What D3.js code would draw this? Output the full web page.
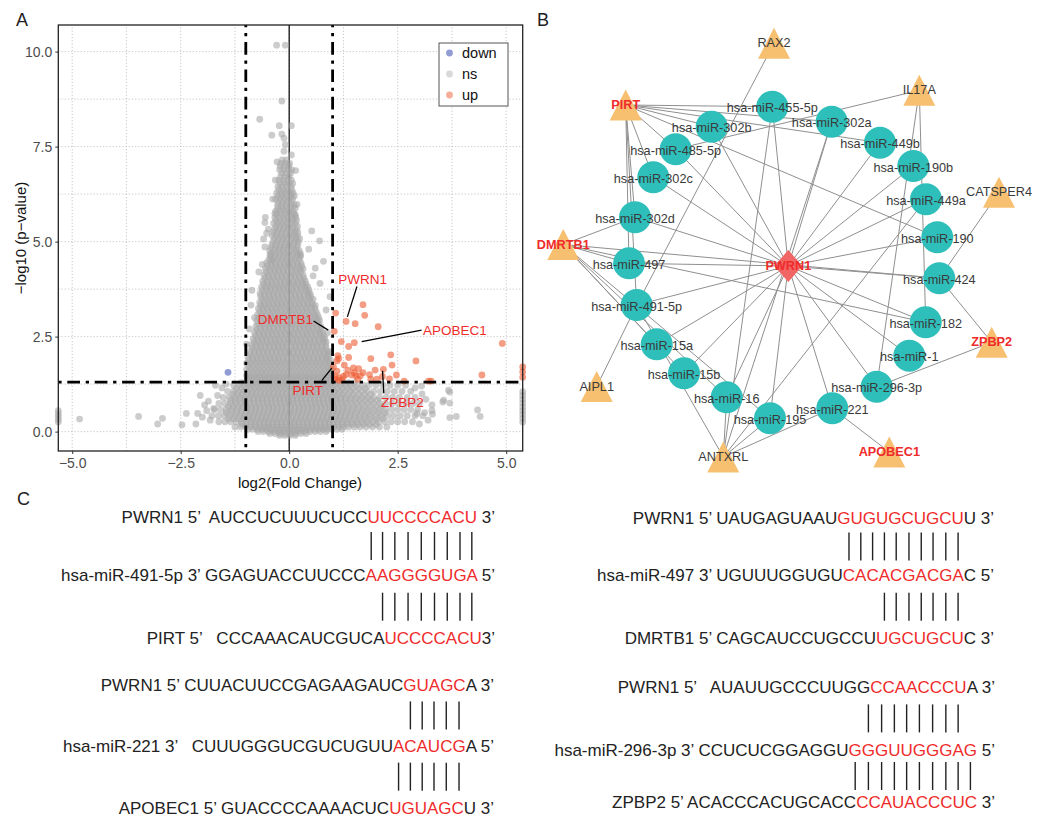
<!DOCTYPE html>
<html>
<head>
<meta charset="utf-8">
<script src="https://cdn.jsdelivr.net/npm/d3@7"></script>
<style>
  body { margin: 0; background: #fff; }
  svg text { font-family: "Liberation Sans", Arial, Helvetica, sans-serif; }
</style>
</head>
<body>
<script>
// ===================== DATA =====================
// Panel A: volcano plot
const xTickVals = [-5, -2.5, 0, 2.5, 5];
const xTickLabels = ["−5.0", "−2.5", "0.0", "2.5", "5.0"];
const yTickVals = [0, 2.5, 5, 7.5, 10];
const yTickLabels = ["0.0", "2.5", "5.0", "7.5", "10.0"];
const gridX = [-5, -3.75, -2.5, -1.25, 0, 1.25, 2.5, 3.75, 5];
const gridY = [0, 1.25, 2.5, 3.75, 5, 6.25, 7.5, 8.75, 10];
const fcCut = 1;
const pCut = 1.301;

// up-regulated genes [log2FC, -log10 p]
const upPts = [
  [1.70,3.34],[1.74,3.06],[1.07,3.12],[1.31,2.90],[1.52,2.84],[2.05,2.76],[1.04,2.64],
  [1.20,2.37],[1.37,2.24],[1.50,2.34],[4.91,2.32],[1.12,2.00],[1.14,1.92],[1.37,1.95],
  [1.88,1.92],[2.34,2.02],[2.92,1.86],[1.10,1.86],[1.27,1.75],[1.02,1.70],[1.48,1.68],
  [1.60,1.66],[1.98,1.62],[2.17,1.64],[2.37,1.75],[1.31,1.50],[1.44,1.49],[1.54,1.47],
  [1.64,1.47],[1.88,1.38],[2.02,1.38],[2.31,1.39],[2.47,1.49],[2.65,1.33],[3.21,1.33],
  [3.27,1.33],[4.44,1.49],[5.38,1.70],[5.38,1.57],[5.38,1.43],[1.14,1.35],[1.06,1.45],
  [1.10,1.59],[1.05,1.38],[1.15,1.42],[1.22,1.36],[1.50,1.55],[1.70,1.55],[1.58,1.38],
  [1.35,1.62],[1.25,1.45],[1.85,1.50],[2.15,1.45]
];
// down-regulated genes
const downPts = [[-1.41,1.56]];
// non-significant genes, scattered ones
const nsPts = [
  [-0.29,10.17],[-0.09,10.17],[-0.17,8.70],[-0.68,8.22],[-0.23,8.05],[0.05,8.05],[-0.40,7.80],
  [-0.17,7.83],[-0.12,7.72],[-0.09,7.55],[-0.12,7.38],[0.05,7.28],[-0.28,7.10],[0.15,6.87],
  [-0.32,6.62],[-0.38,6.12],[0.18,5.98],[-0.33,5.74],[0.14,5.70],[-0.55,5.64],[-0.56,5.50],
  [-0.48,5.33],[0.52,5.28],[-0.52,5.22],[-0.59,5.07],[0.70,5.02],[-0.56,4.86],[0.25,4.64],
  [-0.44,4.66],[0.79,4.48],[-0.40,4.52],[-0.86,3.72],[0.94,3.55],[-0.88,3.33],[0.71,3.90],
  [-0.70,4.20],[0.55,4.10],[-0.80,3.00],[0.85,3.20],[0.88,2.60],[-0.92,2.70],[0.95,2.10],
  [-0.98,2.30],[0.60,4.30],[-0.62,4.40],[0.45,4.80],
  [-5.32,0.55],[-5.32,0.47],[-5.32,0.40],[-5.32,0.32],[-5.32,0.25],[-4.83,0.33],[-3.47,0.40],
  [-3.03,0.20],[-2.92,0.35],[-2.47,0.18],[-2.37,0.48],[-2.15,0.20],[-2.11,0.48],[-2.00,0.38],
  [-1.86,0.80],[-1.74,0.61],[-1.70,1.22],[-1.90,0.55],[-1.82,0.30],[-1.95,0.70],[-1.65,0.95],
  [-1.55,1.15],[-2.05,0.95],[-1.45,1.25],
  [3.29,0.70],[3.29,0.55],[3.30,0.46],[3.70,1.04],[3.70,0.75],[3.54,0.78],[3.70,0.37],
  [4.34,0.57],[4.40,0.40],[3.06,0.99],[3.12,0.50],[3.20,0.30],[2.94,0.48],[3.00,0.20],
  [3.67,1.09],[3.56,0.83],[3.85,0.40],[3.05,1.20],[2.90,1.15],[3.15,0.85],
  [5.38,1.05],[5.38,0.95],[5.38,0.85],[5.38,0.75],[5.38,0.65],[5.38,0.55],[5.38,0.45],
  [5.38,0.35],[5.38,0.25]
];
// non-significant genes in the dense cloud, listed row by row: [-log10 p, [log2FC ...]]
const nsRows = [
  [7.15,[-0.16,-0.06]],
  [7.06,[-0.19,-0.09,0.01]],
  [6.98,[-0.21,-0.11,-0.01]],
  [6.89,[-0.22,-0.12,-0.02,0.06]],
  [6.80,[-0.17,-0.07,0.03]],
  [6.71,[-0.20,-0.10,0.00]],
  [6.62,[-0.24,-0.13,-0.03,0.05]],
  [6.53,[-0.21,-0.11,-0.01,0.08]],
  [6.45,[-0.26,-0.16,-0.06,0.04]],
  [6.36,[-0.24,-0.14,-0.04,0.06]],
  [6.28,[-0.29,-0.19,-0.09,0.01,0.09]],
  [6.20,[-0.26,-0.16,-0.06,0.04,0.12]],
  [6.12,[-0.31,-0.21,-0.11,-0.01,0.08]],
  [6.04,[-0.25,-0.15,-0.05,0.05]],
  [5.96,[-0.27,-0.17,-0.07,0.03,0.12]],
  [5.88,[-0.26,-0.16,-0.06,0.04,0.14]],
  [5.80,[-0.31,-0.21,-0.11,-0.01,0.09]],
  [5.72,[-0.28,-0.18,-0.08,0.02,0.12]],
  [5.64,[-0.33,-0.23,-0.13,-0.03,0.07,0.15]],
  [5.56,[-0.31,-0.21,-0.11,-0.01,0.09,0.17]],
  [5.48,[-0.36,-0.26,-0.16,-0.06,0.04,0.14]],
  [5.40,[-0.31,-0.21,-0.11,-0.01,0.09,0.19]],
  [5.32,[-0.34,-0.24,-0.14,-0.04,0.06,0.16]],
  [5.24,[-0.37,-0.27,-0.17,-0.07,0.03,0.13,0.20]],
  [5.16,[-0.39,-0.29,-0.19,-0.09,0.01,0.11,0.19]],
  [5.08,[-0.34,-0.24,-0.14,-0.04,0.06,0.16,0.24]],
  [5.00,[-0.37,-0.27,-0.17,-0.07,0.03,0.13,0.21]],
  [4.92,[-0.40,-0.30,-0.20,-0.10,0.00,0.10,0.20]],
  [4.84,[-0.42,-0.32,-0.22,-0.12,-0.02,0.08,0.18]],
  [4.76,[-0.45,-0.35,-0.25,-0.15,-0.05,0.05,0.15,0.23]],
  [4.68,[-0.41,-0.31,-0.21,-0.11,-0.01,0.09,0.19,0.26]],
  [4.60,[-0.44,-0.34,-0.24,-0.14,-0.04,0.06,0.16,0.26]],
  [4.52,[-0.47,-0.37,-0.27,-0.17,-0.07,0.03,0.13,0.23]],
  [4.44,[-0.52,-0.42,-0.32,-0.22,-0.12,-0.02,0.08,0.18,0.27]],
  [4.36,[-0.50,-0.40,-0.30,-0.20,-0.10,0.00,0.10,0.20,0.29]],
  [4.28,[-0.55,-0.45,-0.35,-0.25,-0.15,-0.05,0.05,0.15,0.25,0.32]],
  [4.20,[-0.53,-0.43,-0.33,-0.23,-0.13,-0.03,0.07,0.17,0.27]],
  [4.12,[-0.58,-0.48,-0.38,-0.28,-0.18,-0.08,0.02,0.12,0.22,0.32]],
  [4.04,[-0.56,-0.46,-0.36,-0.26,-0.16,-0.06,0.04,0.14,0.24,0.34]],
  [3.96,[-0.61,-0.51,-0.41,-0.31,-0.21,-0.11,-0.01,0.09,0.19,0.29,0.37]],
  [3.88,[-0.59,-0.49,-0.39,-0.29,-0.19,-0.09,0.01,0.11,0.21,0.31,0.39]],
  [3.80,[-0.64,-0.54,-0.44,-0.34,-0.24,-0.14,-0.04,0.06,0.16,0.26,0.36,0.43]],
  [3.72,[-0.62,-0.52,-0.42,-0.32,-0.22,-0.12,-0.02,0.08,0.18,0.28,0.38,0.45]],
  [3.64,[-0.67,-0.57,-0.47,-0.37,-0.27,-0.17,-0.07,0.03,0.13,0.23,0.33,0.43,0.48]],
  [3.56,[-0.66,-0.56,-0.46,-0.36,-0.26,-0.16,-0.06,0.04,0.14,0.24,0.34,0.44,0.50]],
  [3.48,[-0.63,-0.53,-0.43,-0.33,-0.23,-0.13,-0.03,0.07,0.17,0.27,0.37,0.47,0.55]],
  [3.40,[-0.68,-0.58,-0.48,-0.38,-0.28,-0.18,-0.08,0.02,0.12,0.22,0.32,0.42,0.52]],
  [3.32,[-0.66,-0.56,-0.46,-0.36,-0.26,-0.16,-0.06,0.04,0.14,0.24,0.34,0.44,0.54,0.60]],
  [3.24,[-0.71,-0.61,-0.51,-0.41,-0.31,-0.21,-0.11,-0.01,0.09,0.19,0.29,0.39,0.49,0.59]],
  [3.16,[-0.68,-0.58,-0.48,-0.38,-0.28,-0.18,-0.08,0.02,0.12,0.22,0.32,0.42,0.52,0.62]],
  [3.08,[-0.73,-0.63,-0.53,-0.43,-0.33,-0.23,-0.13,-0.03,0.07,0.17,0.27,0.37,0.47,0.57,0.65]],
  [3.00,[-0.70,-0.60,-0.50,-0.40,-0.30,-0.20,-0.10,0.00,0.10,0.20,0.30,0.40,0.50,0.60,0.68]],
  [2.92,[-0.75,-0.65,-0.55,-0.45,-0.35,-0.25,-0.15,-0.05,0.05,0.15,0.25,0.35,0.45,0.55,0.65,0.70]],
  [2.84,[-0.72,-0.62,-0.52,-0.42,-0.32,-0.22,-0.12,-0.02,0.08,0.18,0.28,0.38,0.48,0.58,0.68]],
  [2.76,[-0.77,-0.67,-0.57,-0.47,-0.37,-0.27,-0.17,-0.07,0.03,0.13,0.23,0.33,0.43,0.53,0.63,0.73]],
  [2.68,[-0.75,-0.65,-0.55,-0.45,-0.35,-0.25,-0.15,-0.05,0.05,0.15,0.25,0.35,0.45,0.55,0.65,0.74]],
  [2.60,[-0.80,-0.70,-0.60,-0.50,-0.40,-0.30,-0.20,-0.10,0.00,0.10,0.20,0.30,0.40,0.50,0.60,0.70,0.77]],
  [2.52,[-0.78,-0.68,-0.58,-0.48,-0.38,-0.28,-0.18,-0.08,0.02,0.12,0.22,0.32,0.42,0.52,0.62,0.72,0.80]],
  [2.44,[-0.83,-0.73,-0.63,-0.53,-0.43,-0.33,-0.23,-0.13,-0.03,0.07,0.17,0.27,0.37,0.47,0.57,0.67,0.77,0.82]],
  [2.36,[-0.81,-0.71,-0.61,-0.51,-0.41,-0.31,-0.21,-0.11,-0.01,0.09,0.19,0.29,0.39,0.49,0.59,0.69,0.79,0.85]],
  [2.28,[-0.86,-0.76,-0.66,-0.56,-0.46,-0.36,-0.26,-0.16,-0.06,0.04,0.14,0.24,0.34,0.44,0.54,0.64,0.74,0.84]],
  [2.20,[-0.85,-0.75,-0.65,-0.55,-0.45,-0.35,-0.25,-0.15,-0.05,0.05,0.15,0.25,0.35,0.45,0.55,0.65,0.75,0.85]],
  [2.12,[-0.90,-0.80,-0.70,-0.60,-0.50,-0.40,-0.30,-0.20,-0.10,0.00,0.10,0.20,0.30,0.40,0.50,0.60,0.70,0.80,0.88]],
  [2.04,[-0.90,-0.80,-0.70,-0.60,-0.50,-0.40,-0.30,-0.20,-0.10,0.00,0.10,0.20,0.30,0.40,0.50,0.60,0.70,0.80,0.90]],
  [1.96,[-0.95,-0.85,-0.75,-0.65,-0.55,-0.45,-0.35,-0.25,-0.15,-0.05,0.05,0.15,0.25,0.35,0.45,0.55,0.65,0.75,0.85,0.91]],
  [1.88,[-0.93,-0.83,-0.73,-0.63,-0.53,-0.43,-0.33,-0.23,-0.13,-0.03,0.07,0.17,0.27,0.37,0.47,0.57,0.67,0.77,0.87,0.95]],
  [1.80,[-0.98,-0.88,-0.78,-0.68,-0.58,-0.48,-0.38,-0.28,-0.18,-0.08,0.02,0.12,0.22,0.32,0.42,0.52,0.62,0.72,0.82,0.92]],
  [1.72,[-0.93,-0.83,-0.73,-0.63,-0.53,-0.43,-0.33,-0.23,-0.13,-0.03,0.07,0.17,0.27,0.37,0.47,0.57,0.67,0.77,0.87,0.96]],
  [1.64,[-0.98,-0.88,-0.78,-0.68,-0.58,-0.48,-0.38,-0.28,-0.18,-0.08,0.02,0.12,0.22,0.32,0.42,0.52,0.62,0.72,0.82,0.92,0.97]],
  [1.56,[-0.93,-0.83,-0.73,-0.63,-0.53,-0.43,-0.33,-0.23,-0.13,-0.03,0.07,0.17,0.27,0.37,0.47,0.57,0.67,0.77,0.87,0.96]],
  [1.48,[-0.98,-0.88,-0.78,-0.68,-0.58,-0.48,-0.38,-0.28,-0.18,-0.08,0.02,0.12,0.22,0.32,0.42,0.52,0.62,0.72,0.82,0.92,0.98]],
  [1.42,[-0.93,-0.83,-0.73,-0.63,-0.53,-0.43,-0.33,-0.23,-0.13,-0.03,0.07,0.17,0.27,0.37,0.47,0.57,0.67,0.77,0.87,0.97]],
  [1.36,[-0.96,-0.86,-0.76,-0.66,-0.56,-0.46,-0.36,-0.26,-0.16,-0.06,0.04,0.14,0.24,0.34,0.44,0.54,0.64,0.74,0.84,0.94]],
  [1.29,[-1.10,-0.99,-0.89,-0.79,-0.69,-0.59,-0.49,-0.39,-0.29,-0.19,-0.09,0.01,0.11,0.21,0.31,0.41,0.51,0.61,0.71,0.81,0.91,1.01,1.12,1.24,1.37,1.50]],
  [1.22,[-1.28,-1.15,-1.04,-0.94,-0.84,-0.74,-0.64,-0.54,-0.44,-0.34,-0.24,-0.14,-0.04,0.06,0.16,0.26,0.36,0.46,0.56,0.66,0.76,0.86,0.96,1.06,1.18,1.30,1.42,1.56,1.70,1.84,2.00,2.16,2.32,2.50,2.68]],
  [1.14,[-1.22,-1.10,-0.99,-0.89,-0.79,-0.69,-0.59,-0.49,-0.39,-0.29,-0.19,-0.09,0.01,0.11,0.21,0.31,0.41,0.51,0.61,0.71,0.81,0.91,1.01,1.11,1.22,1.34,1.46,1.60,1.75]],
  [1.06,[-1.42,-1.28,-1.16,-1.05,-0.95,-0.85,-0.75,-0.65,-0.55,-0.45,-0.35,-0.25,-0.15,-0.05,0.05,0.15,0.25,0.35,0.45,0.55,0.65,0.75,0.85,0.95,1.05,1.16,1.28,1.40,1.52,1.66,1.80,1.95,2.10,2.26,2.42,2.60,2.80]],
  [0.98,[-1.30,-1.19,-1.08,-0.97,-0.87,-0.77,-0.67,-0.57,-0.47,-0.37,-0.27,-0.17,-0.07,0.03,0.13,0.23,0.33,0.43,0.53,0.63,0.73,0.83,0.93,1.03,1.13,1.24,1.36,1.48,1.61,1.74,1.88]],
  [0.90,[-1.52,-1.38,-1.25,-1.13,-1.02,-0.92,-0.82,-0.72,-0.62,-0.52,-0.42,-0.32,-0.22,-0.12,-0.02,0.08,0.18,0.28,0.38,0.48,0.58,0.68,0.78,0.88,0.98,1.08,1.19,1.30,1.42,1.54,1.67,1.80,1.94,2.08,2.23,2.38,2.54,2.72,2.90]],
  [0.82,[-1.35,-1.24,-1.13,-1.02,-0.92,-0.82,-0.72,-0.62,-0.52,-0.42,-0.32,-0.22,-0.12,-0.02,0.08,0.18,0.28,0.38,0.48,0.58,0.68,0.78,0.88,0.98,1.08,1.18,1.29,1.40,1.52,1.64,1.77,1.90,2.04]],
  [0.74,[-1.62,-1.48,-1.35,-1.23,-1.11,-1.00,-0.90,-0.80,-0.70,-0.60,-0.50,-0.40,-0.30,-0.20,-0.10,0.00,0.10,0.20,0.30,0.40,0.50,0.60,0.70,0.80,0.90,1.00,1.10,1.21,1.32,1.44,1.56,1.68,1.81,1.94,2.08,2.22,2.37,2.52,2.68,2.85,3.00]],
  [0.66,[-1.40,-1.29,-1.18,-1.07,-0.97,-0.87,-0.77,-0.67,-0.57,-0.47,-0.37,-0.27,-0.17,-0.07,0.03,0.13,0.23,0.33,0.43,0.53,0.63,0.73,0.83,0.93,1.03,1.13,1.24,1.35,1.47,1.59,1.72,1.85,1.99,2.13]],
  [0.58,[-1.72,-1.58,-1.45,-1.32,-1.20,-1.08,-0.97,-0.87,-0.77,-0.67,-0.57,-0.47,-0.37,-0.27,-0.17,-0.07,0.03,0.13,0.23,0.33,0.43,0.53,0.63,0.73,0.83,0.93,1.03,1.13,1.24,1.35,1.46,1.58,1.70,1.82,1.95,2.08,2.22,2.36,2.50,2.65,2.80,2.96]],
  [0.50,[-1.45,-1.33,-1.21,-1.10,-0.99,-0.89,-0.79,-0.69,-0.59,-0.49,-0.39,-0.29,-0.19,-0.09,0.01,0.11,0.21,0.31,0.41,0.51,0.61,0.71,0.81,0.91,1.01,1.11,1.21,1.32,1.43,1.55,1.67,1.80,1.93,2.07,2.21]],
  [0.42,[-1.78,-1.63,-1.50,-1.37,-1.25,-1.13,-1.02,-0.92,-0.82,-0.72,-0.62,-0.52,-0.42,-0.32,-0.22,-0.12,-0.02,0.08,0.18,0.28,0.38,0.48,0.58,0.68,0.78,0.88,0.98,1.08,1.18,1.29,1.40,1.51,1.63,1.75,1.87,2.00,2.13,2.27,2.41,2.56,2.72,2.90,3.08]],
  [0.34,[-1.40,-1.28,-1.16,-1.05,-0.94,-0.84,-0.74,-0.64,-0.54,-0.44,-0.34,-0.24,-0.14,-0.04,0.06,0.16,0.26,0.36,0.46,0.56,0.66,0.76,0.86,0.96,1.06,1.16,1.27,1.38,1.50,1.62,1.75,1.88,2.02,2.16]],
  [0.26,[-1.62,-1.48,-1.35,-1.22,-1.10,-0.99,-0.88,-0.78,-0.68,-0.58,-0.48,-0.38,-0.28,-0.18,-0.08,0.02,0.12,0.22,0.32,0.42,0.52,0.62,0.72,0.82,0.92,1.02,1.12,1.22,1.33,1.44,1.56,1.68,1.80,1.93,2.06,2.20,2.35,2.50,2.66,2.84]],
  [0.19,[-1.10,-0.99,-0.88,-0.78,-0.68,-0.58,-0.48,-0.38,-0.28,-0.18,-0.08,0.02,0.12,0.22,0.32,0.42,0.52,0.62,0.72,0.82,0.92,1.02,1.12,1.23,1.34,1.46,1.58,1.71,1.85,2.00]],
  [0.12,[-1.25,-1.12,-1.00,-0.89,-0.78,-0.67,-0.57,-0.47,-0.37,-0.27,-0.17,-0.07,0.03,0.13,0.23,0.33,0.43,0.53,0.63,0.73,0.83,0.93,1.03,1.14,1.25,1.37,1.50,1.63,1.77,1.92,2.08,2.25]],
  [0.06,[-0.95,-0.84,-0.73,-0.62,-0.52,-0.42,-0.32,-0.22,-0.12,-0.02,0.08,0.18,0.28,0.38,0.48,0.58,0.68,0.78,0.88,0.98,1.10,1.22]],
  [0.00,[-0.72,-0.60,-0.48,-0.36,-0.24,-0.12,0.00,0.12,0.24,0.36,0.48,0.60,0.72,0.85]],
  [-0.05,[-0.45,-0.33,-0.21,-0.09,0.03,0.15,0.27,0.39]],
  [-0.10,[-0.22,-0.10,0.02,0.14]]
];
// labelled genes: label centre, connector start/end (data units)
const geneLabels = [
  {gene:"PWRN1",   lx:1.69, ly:3.99, sx:1.56, sy:3.82, ex:1.34, ey:3.02},
  {gene:"DMRTB1",  lx:-0.09,ly:2.94, sx:0.56, sy:2.91, ex:0.90, ey:2.67},
  {gene:"APOBEC1", lx:3.82, ly:2.66, sx:3.05, sy:2.67, ex:1.67, ey:2.37},
  {gene:"PIRT",    lx:0.43, ly:1.07, sx:0.75, sy:1.34, ex:0.98, ey:1.67},
  {gene:"ZPBP2",   lx:2.61, ly:0.76, sx:2.18, sy:1.01, ex:2.15, ey:1.60}
];
const legendKeys = ["down", "ns", "up"];

// Panel B: ceRNA network (layout coordinates)
const lncNodes = [["PWRN1", 258.3, 266]];
const miRNANodes = [
  ["hsa-miR-455-5p",242.3,106.7],["hsa-miR-302b",181.7,126.7],["hsa-miR-302a",301.7,121.7],
  ["hsa-miR-485-5p",145.7,149.3],["hsa-miR-449b",350,142.7],["hsa-miR-190b",383.3,166],
  ["hsa-miR-302c",123.3,177.3],["hsa-miR-449a",396,199.3],["hsa-miR-302d",105,217.3],
  ["hsa-miR-190",407.3,237.3],["hsa-miR-497",99,263.3],["hsa-miR-424",409.3,278.3],
  ["hsa-miR-491-5p",106.7,305],["hsa-miR-182",395.7,322.3],["hsa-miR-15a",126.7,344.3],
  ["hsa-miR-1",379.3,355.7],["hsa-miR-15b",154,373.3],["hsa-miR-296-3p",346.7,386.7],
  ["hsa-miR-16",196.7,397.3],["hsa-miR-221",302.3,408.3],["hsa-miR-195",240,418.3]
];
const mRNANodes = [
  ["RAX2",244,43.3,false],["PIRT",95.7,105,true],["IL17A",389.3,90.3,false],
  ["CATSPER4",469,192.3,false],["DMRTB1",33.3,244.5,true],["ZPBP2",461.7,342.3,true],
  ["AIPL1",66.7,386.5,false],["ANTXRL",193.3,457,false],["APOBEC1",359.3,452,true]
];
const mRNAEdges = [
  ["PIRT","hsa-miR-455-5p"],["PIRT","hsa-miR-302a"],["PIRT","hsa-miR-302b"],["PIRT","hsa-miR-485-5p"],
  ["PIRT","hsa-miR-302c"],["PIRT","hsa-miR-302d"],["PIRT","hsa-miR-497"],["PIRT","hsa-miR-449b"],
  ["PIRT","hsa-miR-190"],["PIRT","hsa-miR-491-5p"],
  ["RAX2","hsa-miR-491-5p"],
  ["IL17A","hsa-miR-485-5p"],["IL17A","hsa-miR-182"],["IL17A","hsa-miR-296-3p"],
  ["CATSPER4","hsa-miR-424"],
  ["DMRTB1","hsa-miR-497"],["DMRTB1","hsa-miR-302d"],["DMRTB1","hsa-miR-424"],["DMRTB1","hsa-miR-182"],
  ["DMRTB1","hsa-miR-15a"],["DMRTB1","hsa-miR-15b"],["DMRTB1","hsa-miR-16"],["DMRTB1","hsa-miR-195"],
  ["ZPBP2","hsa-miR-424"],["ZPBP2","hsa-miR-296-3p"],
  ["AIPL1","hsa-miR-491-5p"],
  ["ANTXRL","hsa-miR-16"],["ANTXRL","hsa-miR-195"],["ANTXRL","hsa-miR-221"],["ANTXRL","hsa-miR-455-5p"],
  ["ANTXRL","hsa-miR-449a"],["ANTXRL","hsa-miR-491-5p"],["ANTXRL","hsa-miR-302a"],
  ["APOBEC1","hsa-miR-221"]
];

// Panel C: binding sites [black prefix, red seed, black suffix]
const seqPWRN1a = ["PWRN1 5’  AUCCUCUUUCUCC", "UUCCCCACU", " 3’"];
const seqMiR491 = ["hsa-miR-491-5p 3’ GGAGUACCUUCCC", "AAGGGGUGA", " 5’"];
const seqPIRT   = ["PIRT 5’   CCCAAACAUCGUCA", "UCCCCACU", "3’"];
const seqPWRN1b = ["PWRN1 5’ CUUACUUCCGAGAAGAUC", "GUAGC", "A 3’"];
const seqMiR221 = ["hsa-miR-221 3’   CUUUGGGUCGUCUGUU", "ACAUCG", "A 5’"];
const seqAPOBEC1= ["APOBEC1 5’ GUACCCCAAAACUC", "UGUAGC", "U 3’"];
const seqPWRN1c = ["PWRN1 5’ UAUGAGUAAU", "GUGUGCUGCU", "U 3’"];
const seqMiR497 = ["hsa-miR-497 3’ UGUUUGGUGU", "CACACGACGA", "C 5’"];
const seqDMRTB1 = ["DMRTB1 5’ CAGCAUCCUGCCU", "UGCUGCU", "C 3’"];
const seqPWRN1d = ["PWRN1 5’   AUAUUGCCCUUGG", "CCAACCCU", "A 3’"];
const seqMiR296 = ["hsa-miR-296-3p 3’ CCUCUCGGAGGU", "GGGUUGGGAG", " 5’"];
const seqZPBP2  = ["ZPBP2 5’ ACACCCACUGCACC", "CCAUACCCUC", " 3’"];
// base pairs: [first paired position in the miRNA seed, number of pairs]
const pairsBlock1 = [[0,9],[1,8]];
const pairsBlock2 = [[1,5],[0,6]];
const pairsBlock3 = [[0,10],[3,7]];
const pairsBlock4 = [[1,8],[0,10]];

// ===================== DRAWING =====================
const svg = d3.select("body").append("svg").attr("width", 1049).attr("height", 818);
const RED = "#ef2b2b";

// ---------- Panel A ----------
const x = d3.scaleLinear().domain([-5.32, 5.38]).range([58.3, 522.7]);
const y = d3.scaleLinear().domain([-0.51, 10.7]).range([451, 25]);
const gA = svg.append("g");

gA.append("g").selectAll("line").data(gridX).join("line")
  .attr("x1", d => x(d)).attr("x2", d => x(d)).attr("y1", y.range()[0]).attr("y2", y.range()[1])
  .attr("stroke", "#b9b9b9").attr("stroke-width", 0.8).attr("stroke-dasharray", "1.2,2");
gA.append("g").selectAll("line").data(gridY).join("line")
  .attr("y1", d => y(d)).attr("y2", d => y(d)).attr("x1", x.range()[0]).attr("x2", x.range()[1])
  .attr("stroke", "#b9b9b9").attr("stroke-width", 0.8).attr("stroke-dasharray", "1.2,2");

// zero line
gA.append("line").attr("x1", x(0)).attr("x2", x(0)).attr("y1", y.range()[0]).attr("y2", y.range()[1])
  .attr("stroke", "#111").attr("stroke-width", 1.3);

const nsAll = nsPts.concat(nsRows.flatMap(([py, xs]) => xs.map(px => [px, py])));
const R = 3.4;
gA.append("g").selectAll("circle").data(nsAll).join("circle")
  .attr("cx", d => x(d[0])).attr("cy", d => y(d[1])).attr("r", R)
  .attr("fill", "#a7a7a7").attr("fill-opacity", 0.58);
gA.append("g").selectAll("circle").data(downPts).join("circle")
  .attr("cx", d => x(d[0])).attr("cy", d => y(d[1])).attr("r", R)
  .attr("fill", "#4a5ab8").attr("fill-opacity", 0.6);
gA.append("g").selectAll("circle").data(upPts).join("circle")
  .attr("cx", d => x(d[0])).attr("cy", d => y(d[1])).attr("r", R)
  .attr("fill", "#ec5b33").attr("fill-opacity", 0.6);

// thresholds
const dd = "3.3,5.7,12.7,5.7";
[-fcCut, fcCut].forEach(v => gA.append("line")
  .attr("x1", x(v)).attr("x2", x(v)).attr("y1", y.range()[1]).attr("y2", y.range()[0])
  .attr("stroke", "#000").attr("stroke-width", 2.8).attr("stroke-dasharray", dd).attr("stroke-dashoffset", -8));
gA.append("line").attr("x1", x.range()[0]).attr("x2", x.range()[1]).attr("y1", y(pCut)).attr("y2", y(pCut))
  .attr("stroke", "#000").attr("stroke-width", 2.8).attr("stroke-dasharray", dd);

// panel border
gA.append("rect").attr("x", x.range()[0]).attr("y", y.range()[1])
  .attr("width", x.range()[1] - x.range()[0]).attr("height", y.range()[0] - y.range()[1])
  .attr("fill", "none").attr("stroke", "#222").attr("stroke-width", 1.3);

// axes
const xAxis = d3.axisBottom(x).tickValues(xTickVals).tickSize(3).tickPadding(4)
  .tickFormat((d, i) => xTickLabels[i]);
const gx = gA.append("g").attr("transform", `translate(0,${y.range()[0]})`).call(xAxis);
gx.select(".domain").remove();
gx.selectAll("line").attr("stroke", "#333");
gx.selectAll("text").attr("fill", "#4d4d4d").style("font-size", "14px")
  .style("font-family", '"Liberation Sans", Arial, sans-serif');
const yAxis = d3.axisLeft(y).tickValues(yTickVals).tickSize(3).tickPadding(3)
  .tickFormat((d, i) => yTickLabels[i]);
const gy = gA.append("g").attr("transform", `translate(${x.range()[0]},0)`).call(yAxis);
gy.select(".domain").remove();
gy.selectAll("line").attr("stroke", "#333");
gy.selectAll("text").attr("fill", "#4d4d4d").style("font-size", "14px")
  .style("font-family", '"Liberation Sans", Arial, sans-serif');

gA.append("text").attr("x", 300).attr("y", 488).attr("text-anchor", "middle")
  .style("font-size", "15px").attr("fill", "#111").text("log2(Fold Change)");
gA.append("text").attr("transform", `translate(26,${(y.range()[0] + y.range()[1]) / 2}) rotate(-90)`)
  .attr("text-anchor", "middle").style("font-size", "15px").attr("fill", "#111").text("−log10 (p−value)");

// gene labels
const gl = gA.append("g");
gl.selectAll("line").data(geneLabels).join("line")
  .attr("x1", d => x(d.sx)).attr("y1", d => y(d.sy)).attr("x2", d => x(d.ex)).attr("y2", d => y(d.ey))
  .attr("stroke", "#000").attr("stroke-width", 1.3);
gl.selectAll("text").data(geneLabels).join("text")
  .attr("x", d => x(d.lx)).attr("y", d => y(d.ly)).attr("text-anchor", "middle")
  .attr("dominant-baseline", "central").style("font-size", "13.5px").attr("fill", RED)
  .text(d => d.gene);

// legend
const legColors = {down: ["#4a5ab8", 0.6], ns: ["#aaaaaa", 0.45], up: ["#ec5b33", 0.5]};
const lg = gA.append("g");
lg.append("rect").attr("x", 439).attr("y", 43).attr("width", 69).attr("height", 63)
  .attr("fill", "#fff").attr("stroke", "#555").attr("stroke-width", 1);
const ly = d3.scalePoint().domain(legendKeys).range([53, 95]);
lg.selectAll("circle").data(legendKeys).join("circle")
  .attr("cx", 449.5).attr("cy", d => ly(d)).attr("r", 3.4)
  .attr("fill", d => legColors[d][0]).attr("fill-opacity", d => legColors[d][1]);
lg.selectAll("text").data(legendKeys).join("text")
  .attr("x", 462).attr("y", d => ly(d)).attr("dominant-baseline", "central")
  .style("font-size", "14.5px").attr("fill", "#111").text(d => d);

// panel letters
svg.append("text").attr("x", 16).attr("y", 26).style("font-size", "18px").attr("fill", "#222").text("A");
svg.append("text").attr("x", 537).attr("y", 26).style("font-size", "18px").attr("fill", "#222").text("B");
svg.append("text").attr("x", 17).attr("y", 505).style("font-size", "18px").attr("fill", "#222").text("C");

// ---------- Panel B ----------
const nx = d3.scaleLinear().domain([0, 519]).range([530, 1049]);
const ny = d3.scaleLinear().domain([0, 470]).range([0, 470]);
const pos = {};
lncNodes.forEach(d => pos[d[0]] = [nx(d[1]), ny(d[2])]);
miRNANodes.forEach(d => pos[d[0]] = [nx(d[1]), ny(d[2])]);
mRNANodes.forEach(d => pos[d[0]] = [nx(d[1]), ny(d[2])]);
const edges = miRNANodes.map(d => [lncNodes[0][0], d[0]]).concat(mRNAEdges);
const gB = svg.append("g");
gB.append("g").selectAll("line").data(edges).join("line")
  .attr("x1", d => pos[d[0]][0]).attr("y1", d => pos[d[0]][1])
  .attr("x2", d => pos[d[1]][0]).attr("y2", d => pos[d[1]][1])
  .attr("stroke", "#8f8f8f").attr("stroke-width", 1);
// miRNA circles
gB.append("g").selectAll("circle").data(miRNANodes).join("circle")
  .attr("cx", d => pos[d[0]][0]).attr("cy", d => pos[d[0]][1]).attr("r", 16)
  .attr("fill", "#2fbfba");
// mRNA triangles
gB.append("g").selectAll("path").data(mRNANodes).join("path")
  .attr("d", d => { const [cx, cy] = pos[d[0]]; return `M${cx},${cy - 15.5}L${cx + 16},${cy + 15.5}L${cx - 16},${cy + 15.5}Z`; })
  .attr("fill", "#f7bf70");
// lncRNA diamond
gB.append("g").selectAll("path").data(lncNodes).join("path")
  .attr("d", d => { const [cx, cy] = pos[d[0]]; return `M${cx},${cy - 16}L${cx + 14},${cy}L${cx},${cy + 16}L${cx - 14},${cy}Z`; })
  .attr("fill", "#f26565");
// labels
gB.append("g").selectAll("text").data(miRNANodes).join("text")
  .attr("x", d => pos[d[0]][0]).attr("y", d => pos[d[0]][1] + 1.5)
  .attr("text-anchor", "middle").attr("dominant-baseline", "central")
  .style("font-size", "12.7px").attr("fill", "#3a3a3a").text(d => d[0]);
gB.append("g").selectAll("text").data(mRNANodes).join("text")
  .attr("x", d => pos[d[0]][0]).attr("y", d => pos[d[0]][1])
  .attr("text-anchor", "middle").attr("dominant-baseline", "central")
  .style("font-size", "12.7px").style("font-weight", d => d[3] ? "bold" : "normal")
  .attr("fill", d => d[3] ? RED : "#3a3a3a").text(d => d[0]);
gB.append("g").selectAll("text").data(lncNodes).join("text")
  .attr("x", d => pos[d[0]][0]).attr("y", d => pos[d[0]][1])
  .attr("text-anchor", "middle").attr("dominant-baseline", "central")
  .style("font-size", "12.7px").style("font-weight", "bold").attr("fill", RED).text(d => d[0]);

// ---------- Panel C ----------
const gC = svg.append("g");
function seqLine(parts, xEnd, base) {
  const t = gC.append("text").attr("x", xEnd).attr("y", base).attr("text-anchor", "end")
    .style("font-size", "17px").style("white-space", "pre").attr("fill", "#222");
  t.append("tspan").text(parts[0]);
  t.append("tspan").attr("fill", RED).text(parts[1]);
  t.append("tspan").text(parts[2]);
  return t;
}
function block(seqs, xEnd, bases, pairs) {
  const lines = seqs.map((s, i) => seqLine(s, xEnd, bases[i]));
  const mid = 1; // the miRNA sits on the middle line
  const node = lines[mid].node();
  const off = seqs[mid][0].length;
  pairs.forEach(([s0, n], gi) => {
    const upper = gi === 0 ? 0 : 1, lower = upper + 1;
    const cy = ((bases[upper] - 6) + (bases[lower] - 6)) / 2;
    const xs = d3.range(n).map(k => {
      const i = off + s0 + k;
      const a = node.getStartPositionOfChar(i).x, b = node.getEndPositionOfChar(i).x;
      return (a + b) / 2;
    });
    gC.append("g").selectAll("line").data(xs).join("line")
      .attr("x1", d => d).attr("x2", d => d).attr("y1", cy - 14).attr("y2", cy + 14)
      .attr("stroke", "#222").attr("stroke-width", 1.4);
  });
}
block([seqPWRN1a, seqMiR491, seqPIRT], 495, [522.8, 581, 644.4], pairsBlock1);
block([seqPWRN1b, seqMiR221, seqAPOBEC1], 494, [691, 751.8, 813.5], pairsBlock2);
block([seqPWRN1c, seqMiR497, seqDMRTB1], 994, [523.8, 581, 644.4], pairsBlock3);
block([seqPWRN1d, seqMiR296, seqZPBP2], 995, [692.8, 756, 808], pairsBlock4);
</script>
</body>
</html>
